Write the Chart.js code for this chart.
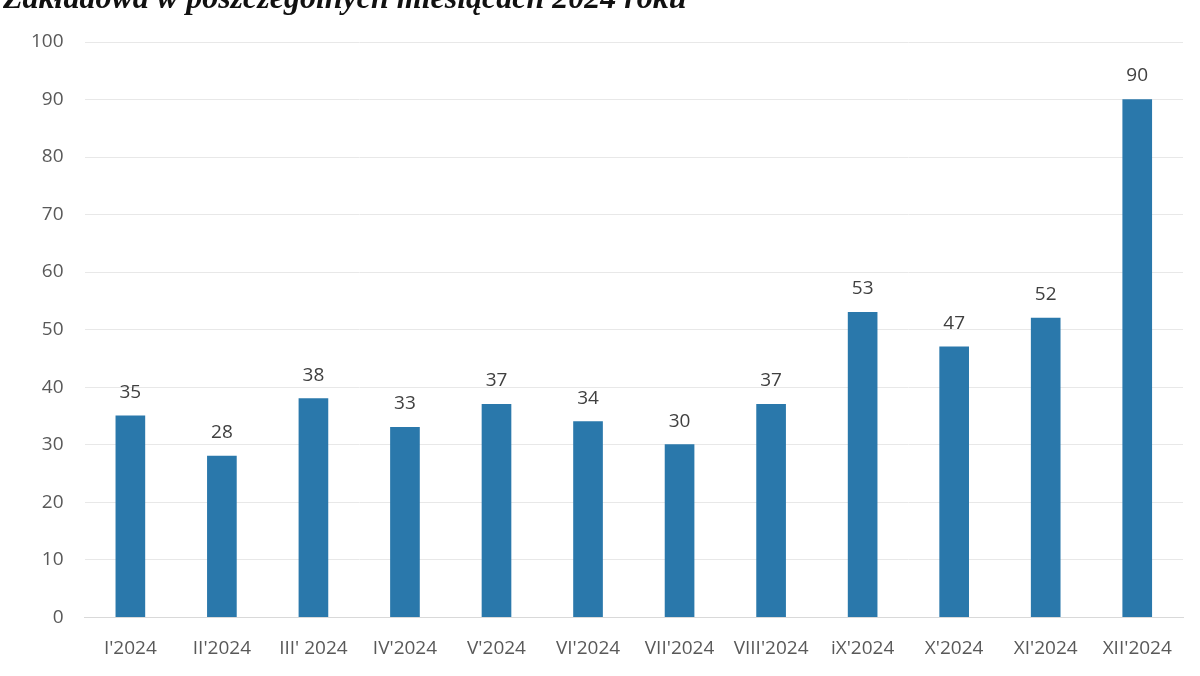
<!DOCTYPE html>
<html>
<head>
<meta charset="utf-8">
<script src="https://cdn.jsdelivr.net/npm/chart.js@4/dist/chart.umd.min.js"></script>
<style>
    html, body { margin: 0; padding: 0; background: #fff; overflow: hidden; }
    #wrap { position: relative; width: 1200px; height: 676px; }
    #title {
        position: absolute; left: 3px; top: -21px;
        font-family: 'Liberation Serif', serif; font-weight: bold; font-style: italic;
        font-size: 32px; color: #111; white-space: nowrap;
    }
    canvas { position: absolute; left: 0; top: 0; }
</style>
</head>
<body>
<div id="wrap">
    <canvas id="chart" width="1200" height="676"></canvas>
    <div id="title">Zakładowa w poszczególnych miesiącach 2024 roku</div>
</div>
<script>
// etykiety miesięcy
const months = ["I'2024", "II'2024", "III' 2024", "IV'2024", "V'2024", "VI'2024", "VII'2024", "VIII'2024", "iX'2024", "X'2024", "XI'2024", "XII'2024"];
// wartości słupków
const values = [35, 28, 38, 33, 37, 34, 30, 37, 53, 47, 52, 90];
// podziałka osi Y
const yTicks = [0, 10, 20, 30, 40, 50, 60, 70, 80, 90, 100];

const fontFamily = "'Open Sans', 'Noto Sans', sans-serif";

// wartości nad słupkami (bez pluginu datalabels)
const valueLabels = {
    id: 'valueLabels',
    afterDatasetsDraw(chart) {
        const ctx = chart.ctx;
        const meta = chart.getDatasetMeta(0);
        ctx.save();
        ctx.font = '19px ' + fontFamily;
        ctx.fillStyle = '#404040';
        ctx.textAlign = 'center';
        ctx.textBaseline = 'bottom';
        meta.data.forEach(function (bar, i) {
            ctx.fillText(values[i], bar.x, bar.y - 14);
        });
        ctx.restore();
    }
};

new Chart(document.getElementById('chart').getContext('2d'), {
    type: 'bar',
    data: {
        labels: months,
        datasets: [{
            data: values,
            backgroundColor: '#2a78ab',
            barThickness: 29
        }]
    },
    options: {
        responsive: false,
        animation: false,
        layout: { padding: { top: 42, left: 10, right: 17, bottom: 4 } },
        plugins: {
            legend: { display: false },
            tooltip: { enabled: false }
        },
        scales: {
            x: {
                grid: { display: false },
                border: { color: '#d9d9d9', width: 1 },
                ticks: {
                    color: '#595959',
                    font: { family: fontFamily, size: 19 },
                    maxRotation: 0,
                    autoSkip: false,
                    padding: 12
                }
            },
            y: {
                min: 0,
                max: 100,
                afterBuildTicks(axis) {
                    axis.ticks = yTicks.map(v => ({ value: v }));
                },
                grid: { color: '#e8e8e8', drawTicks: false },
                border: { display: false },
                ticks: {
                    color: '#595959',
                    font: { family: fontFamily, size: 19 },
                    padding: 21
                }
            }
        }
    },
    plugins: [valueLabels]
});
</script>
</body>
</html>
